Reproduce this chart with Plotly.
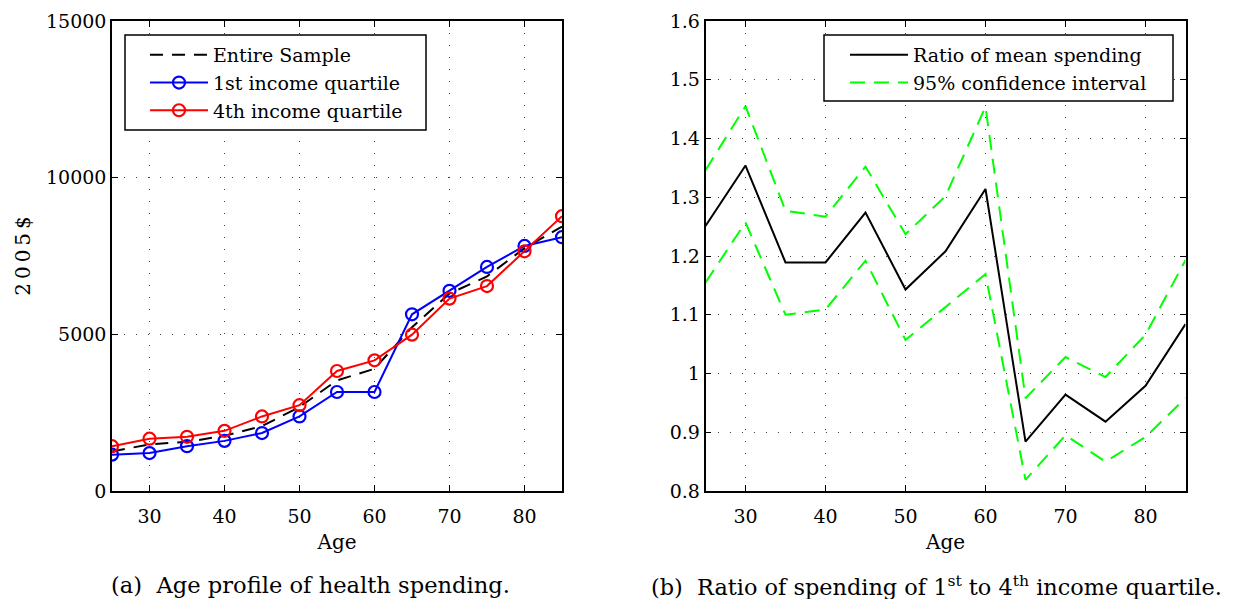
import plotly.graph_objects as go

# Age groups (x axis, both panels)
ages = [25, 30, 35, 40, 45, 50, 55, 60, 65, 70, 75, 80, 85]

# Panel (a): mean health spending in 2005 dollars
entire_sample = [1260, 1490, 1570, 1760, 2070, 2680, 3530, 3900, 5230, 6300, 6850, 7750, 8440]
quartile_1 = [1160, 1210, 1430, 1600, 1850, 2380, 3160, 3160, 5640, 6390, 7150, 7820, 8100]
quartile_4 = [1430, 1670, 1730, 1920, 2380, 2740, 3830, 4170, 4990, 6140, 6540, 7650, 8770]

# Panel (b): ratio of mean spending (1st / 4th quartile) and 95% CI bounds
ratio_mean = [1.251, 1.354, 1.189, 1.189, 1.274, 1.143, 1.208, 1.314, 0.884, 0.964, 0.918, 0.979, 1.084]
ci_upper = [1.346, 1.455, 1.277, 1.267, 1.352, 1.237, 1.302, 1.454, 0.958, 1.028, 0.994, 1.066, 1.193]
ci_lower = [1.155, 1.257, 1.100, 1.109, 1.192, 1.057, 1.113, 1.169, 0.819, 0.895, 0.850, 0.892, 0.958]

x_ticks = [30, 40, 50, 60, 70, 80]
y_ticks_a = [0, 5000, 10000, 15000]
y_tick_text_a = ["0", "5000", "10000", "15000"]
y_ticks_b = [0.8, 0.9, 1.0, 1.1, 1.2, 1.3, 1.4, 1.5, 1.6]
y_tick_text_b = ["0.8", "0.9", "1", "1.1", "1.2", "1.3", "1.4", "1.5", "1.6"]

W, H = 1233, 599
FONT = "'DejaVu Serif', 'Liberation Serif', serif"


def px_x(v):
    return v / W


def px_y(v):
    return 1 - v / H


fig = go.Figure()

# ---- panel (a) ----
fig.add_trace(go.Scatter(
    x=ages, y=entire_sample, name="Entire Sample", mode="lines",
    line=dict(color="black", width=2, dash="13px,9px"),
    xaxis="x", yaxis="y", legend="legend"))
fig.add_trace(go.Scatter(
    x=ages, y=quartile_1, name="1st income quartile", mode="lines+markers",
    line=dict(color="#0000ff", width=2),
    marker=dict(symbol="circle-open", size=12, color="#0000ff", line=dict(width=2.2)),
    xaxis="x", yaxis="y", legend="legend"))
fig.add_trace(go.Scatter(
    x=ages, y=quartile_4, name="4th income quartile", mode="lines+markers",
    line=dict(color="#ff0000", width=2),
    marker=dict(symbol="circle-open", size=12, color="#ff0000", line=dict(width=2.2)),
    xaxis="x", yaxis="y", legend="legend"))

# ---- panel (b) ----
fig.add_trace(go.Scatter(
    x=ages, y=ratio_mean, name="Ratio of mean spending", mode="lines",
    line=dict(color="black", width=2),
    xaxis="x2", yaxis="y2", legend="legend2"))
fig.add_trace(go.Scatter(
    x=ages, y=ci_upper, name="95% confidence interval", mode="lines",
    line=dict(color="#00ff00", width=2, dash="15px,9px"),
    xaxis="x2", yaxis="y2", legend="legend2"))
fig.add_trace(go.Scatter(
    x=ages, y=ci_lower, name="95% confidence interval", mode="lines",
    line=dict(color="#00ff00", width=2, dash="15px,9px"), showlegend=False,
    xaxis="x2", yaxis="y2", legend="legend2"))

axis_common = dict(
    showline=True, linecolor="black", linewidth=1.5, mirror="ticks",
    ticks="inside", ticklen=6, tickwidth=1.2, tickcolor="black",
    showgrid=True, gridcolor="#444444", gridwidth=1, griddash="1px,11px",
    zeroline=False, automargin=False,
    tickfont=dict(family=FONT, size=19, color="black"),
)

y_dom = [px_y(491), px_y(21)]
legend_common = dict(
    xanchor="left", yanchor="top", bgcolor="rgba(0,0,0,0)", borderwidth=0,
    font=dict(family=FONT, size=19, color="black"), itemwidth=58, tracegroupgap=0,
)

fig.update_layout(
    width=W, height=H,
    margin=dict(l=0, r=0, t=0, b=0, autoexpand=False),
    paper_bgcolor="white", plot_bgcolor="white",
    font=dict(family=FONT, color="black", size=19),
    xaxis=dict(axis_common, domain=[px_x(112), px_x(562)], range=[25, 85],
               tickvals=x_ticks, anchor="y", ticklabelstandoff=7,
               title=dict(text="Age", font=dict(family=FONT, size=20), standoff=9)),
    yaxis=dict(axis_common, domain=y_dom, range=[0, 15000], tickvals=y_ticks_a,
               ticktext=y_tick_text_a, anchor="x",
               title=dict(text="2\u20090\u20090\u20095\u2009$", font=dict(family=FONT, size=20),
                          standoff=10)),
    xaxis2=dict(axis_common, domain=[px_x(705.5), px_x(1185.5)], range=[25, 85],
                tickvals=x_ticks, anchor="y2", ticklabelstandoff=7,
                title=dict(text="Age", font=dict(family=FONT, size=20), standoff=9)),
    yaxis2=dict(axis_common, domain=y_dom, range=[0.8, 1.6], tickvals=y_ticks_b,
                ticktext=y_tick_text_b, anchor="x2"),
    legend=dict(legend_common, x=px_x(145), y=px_y(36)),
    legend2=dict(legend_common, x=px_x(845), y=px_y(36)),
    shapes=[
        # legend frames
        dict(type="rect", xref="paper", yref="paper", layer="above",
             x0=px_x(125), x1=px_x(426), y0=px_y(130), y1=px_y(35),
             fillcolor="white", line=dict(color="black", width=1.5)),
        dict(type="rect", xref="paper", yref="paper", layer="above",
             x0=px_x(824), x1=px_x(1173), y0=px_y(101), y1=px_y(35),
             fillcolor="white", line=dict(color="black", width=1.5)),
    ],
    annotations=[
        dict(text="(a)  Age profile of health spending.", x=px_x(310), y=px_y(585),
             xref="paper", yref="paper", showarrow=False, xanchor="center", yanchor="middle",
             font=dict(family=FONT, size=22.6, color="black")),
        dict(text="(b)  Ratio of spending of 1<sup>st</sup> to 4<sup>th</sup> income quartile.",
             x=px_x(936), y=px_y(585),
             xref="paper", yref="paper", showarrow=False, xanchor="center", yanchor="middle",
             font=dict(family=FONT, size=22.4, color="black")),
    ],
)

fig.write_html("out.html")
